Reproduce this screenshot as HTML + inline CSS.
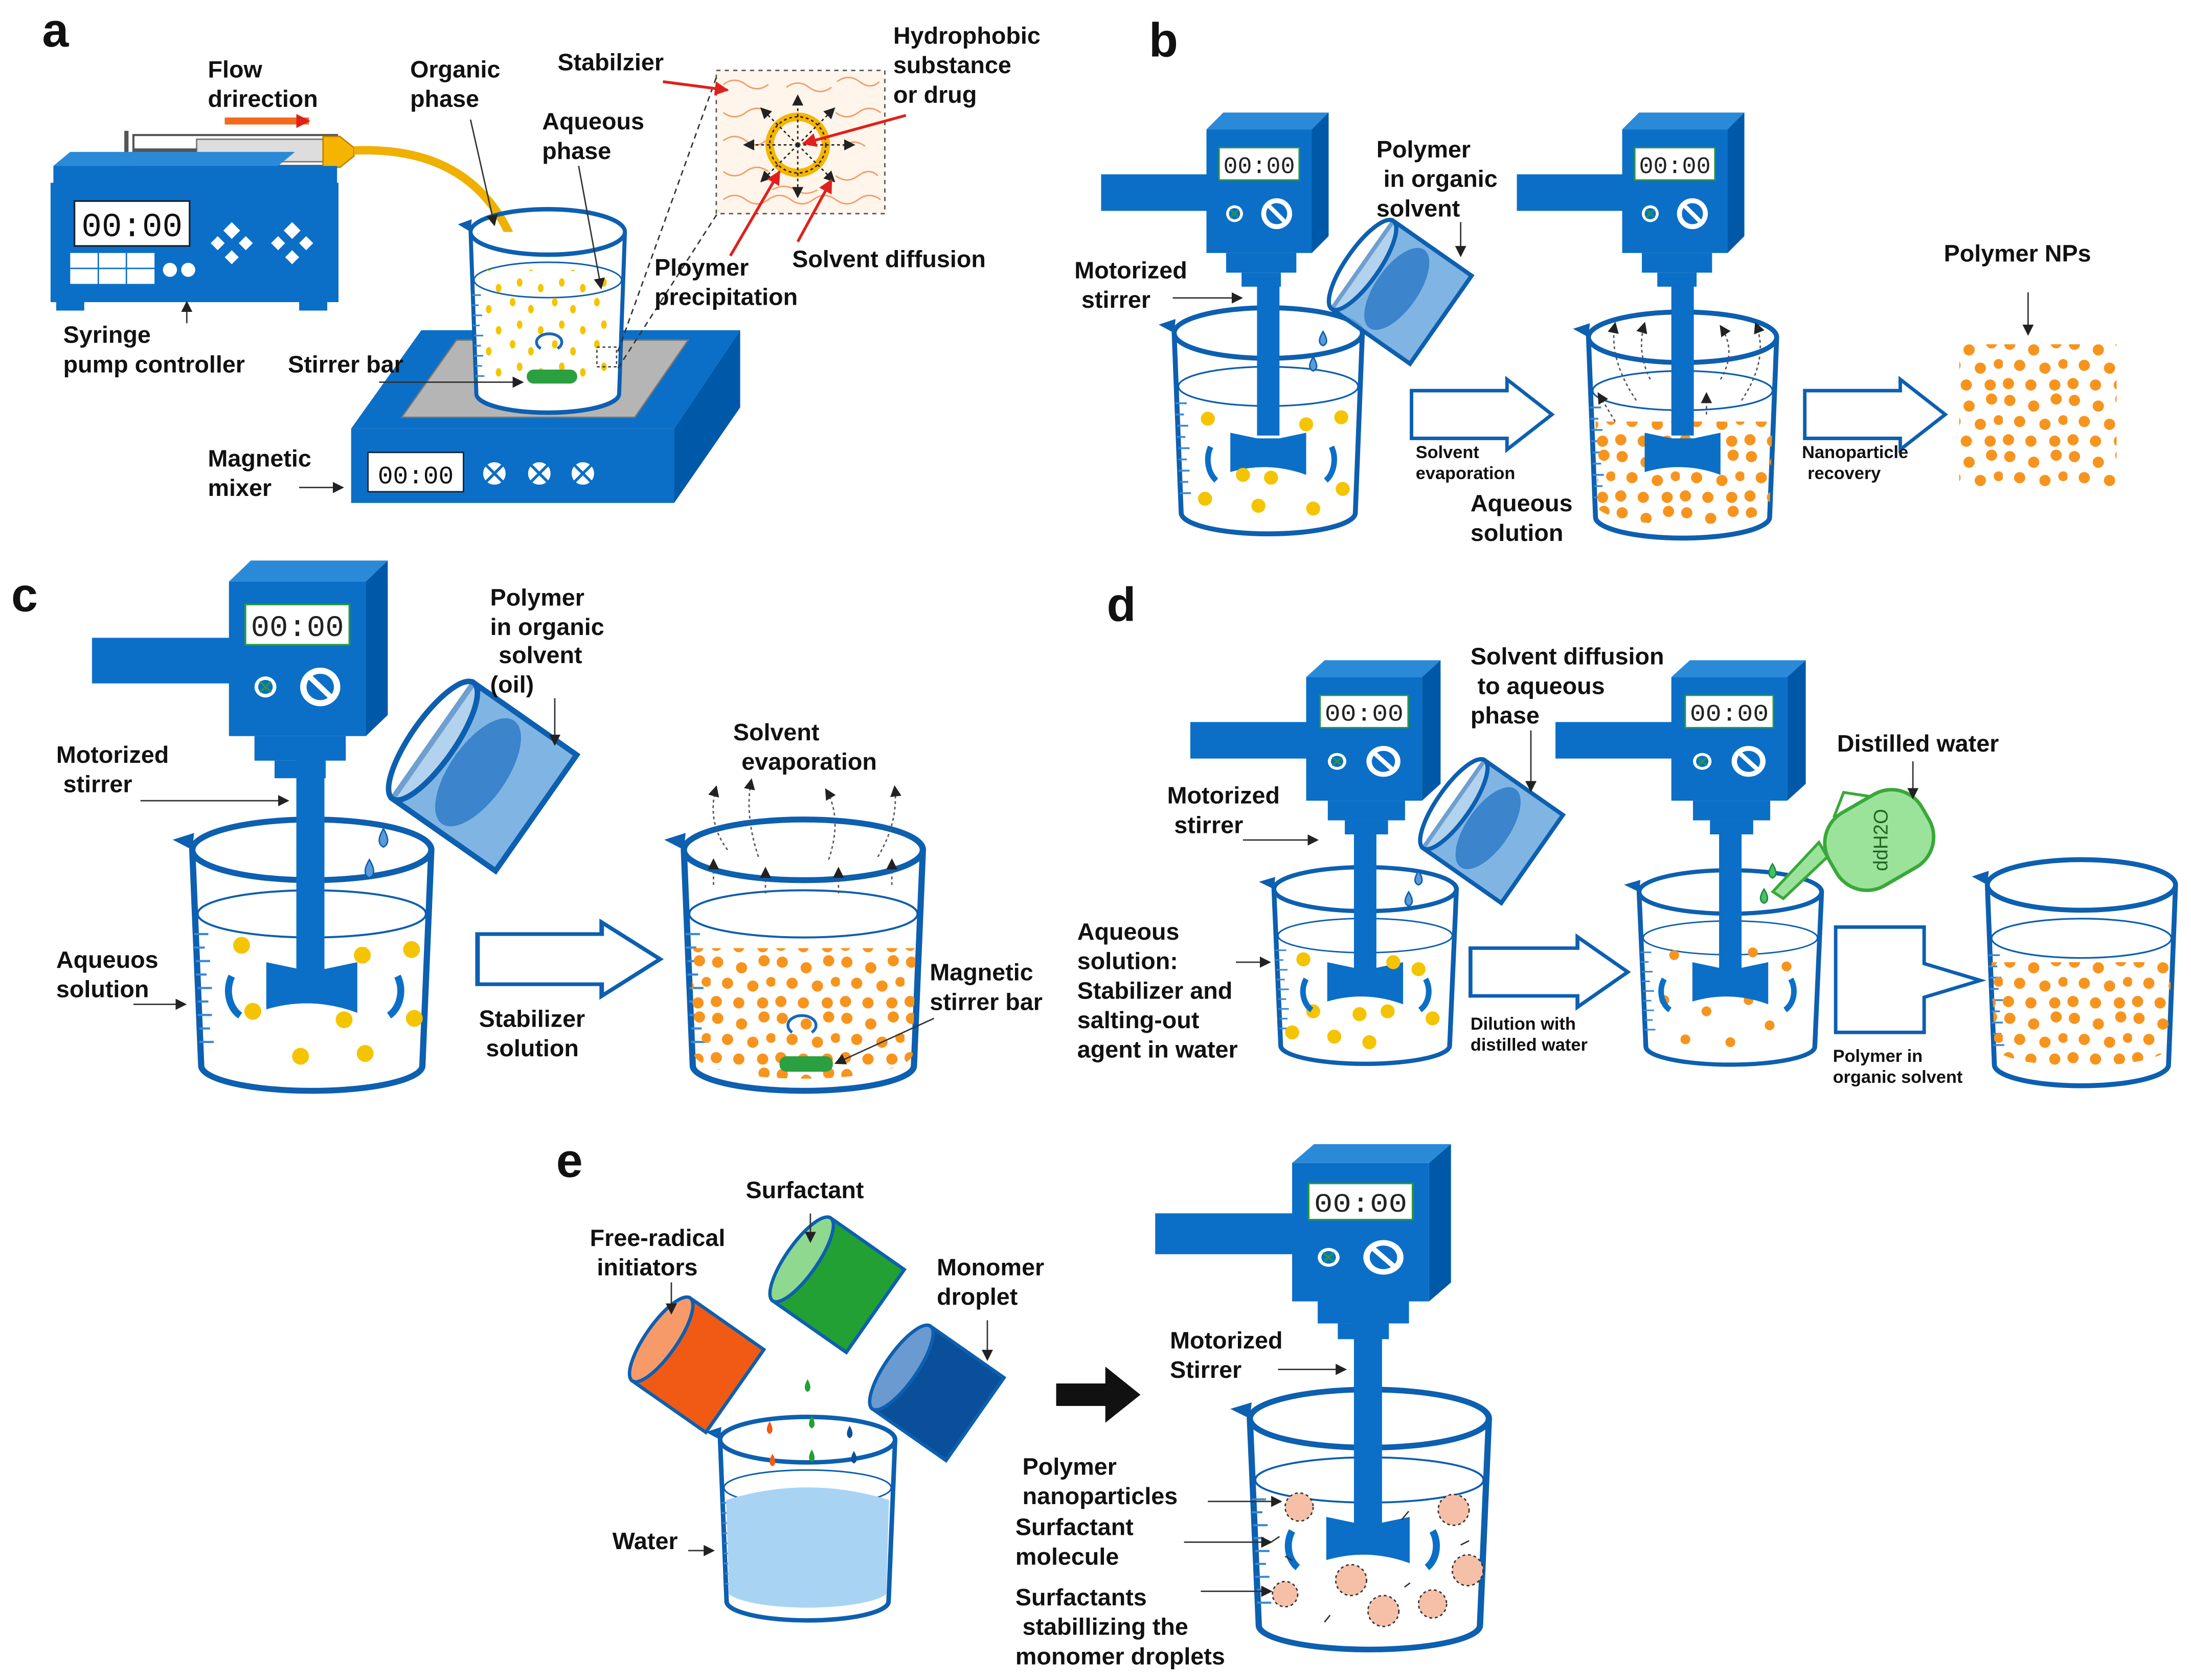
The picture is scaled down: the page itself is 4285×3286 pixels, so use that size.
<!DOCTYPE html>
<html><head><meta charset="utf-8"><style>
html,body{margin:0;padding:0;background:#fff}
svg{display:block}
text{font-family:"Liberation Sans",Arial,sans-serif;font-weight:bold;fill:#111}
</style></head><body>
<svg xmlns="http://www.w3.org/2000/svg" width="4285" height="3286" viewBox="0 0 1560 1196">
<defs>
<marker id="ah" markerWidth="8" markerHeight="8" refX="7" refY="4" orient="auto" markerUnits="userSpaceOnUse"><path d="M0,0 L8,4 L0,8z" fill="#222"/></marker>
<marker id="ahr" markerWidth="10" markerHeight="10" refX="9" refY="5" orient="auto" markerUnits="userSpaceOnUse"><path d="M0,0 L10,5 L0,10z" fill="#e0201c"/></marker>
<pattern id="dots" width="46" height="40" patternUnits="userSpaceOnUse">
<circle cx="5" cy="5" r="4" fill="#f7941d"/><circle cx="22" cy="9" r="4" fill="#f7941d"/><circle cx="38" cy="4" r="4" fill="#f7941d"/>
<circle cx="12" cy="20" r="4" fill="#f7941d"/><circle cx="30" cy="22" r="4" fill="#f7941d"/><circle cx="43" cy="19" r="3.5" fill="#f7941d"/>
<circle cx="4" cy="33" r="4" fill="#f7941d"/><circle cx="20" cy="34" r="4" fill="#f7941d"/><circle cx="37" cy="34" r="4" fill="#f7941d"/>
</pattern>
<pattern id="ydots" width="30" height="30" patternUnits="userSpaceOnUse">
<ellipse cx="5" cy="5" rx="2" ry="3" fill="#f5c400"/><ellipse cx="18" cy="10" rx="2" ry="3" fill="#f5c400"/><ellipse cx="10" cy="21" rx="2" ry="3" fill="#f5c400"/><ellipse cx="25" cy="25" rx="2" ry="3" fill="#f5c400"/>
</pattern>
<g id="beaker">
<path d="M-67,0 L-62,128 A62,15 0 0 0 62,128 L67,0" fill="#fff" stroke="#0d5fb0" stroke-width="3.5"/>
<ellipse cx="0" cy="0" rx="67" ry="18" fill="none" stroke="#0d5fb0" stroke-width="3.5"/>
<path d="M-67,0 L-78,-6 L-66,-10z" fill="#0d5fb0"/>
<ellipse cx="0" cy="38" rx="64" ry="14" fill="none" stroke="#0d5fb0" stroke-width="1.2"/>
<path d="M-66,50h8M-66,58h6M-65,66h8M-65,74h6M-64,82h8M-64,90h6M-64,98h8M-63,106h6M-63,114h8" stroke="#3a88d6" stroke-width="1.3"/>
</g>
<g id="stir">
<rect x="-75" y="32" width="80" height="26" fill="#0b6fc7"/>
<polygon points="0,0 12,-12 87,-12 75,0" fill="#2a8ad8"/>
<polygon points="75,0 87,-12 87,76 75,88" fill="#0059a8"/>
<rect x="0" y="0" width="75" height="88" fill="#0b6fc7"/>
<rect x="9" y="13" width="57" height="23" fill="#fff" stroke="#2a9a3a" stroke-width="1"/>
<text x="37.5" y="31" text-anchor="middle" style="font-family:'Liberation Mono',monospace;font-weight:normal;font-size:17px;fill:#222">00:00</text>
<circle cx="20" cy="60" r="6" fill="#fff"/><circle cx="20" cy="60" r="4" fill="#0b6fc7"/><path d="M17,57l6,6M23,57l-6,6" stroke="#2a9a3a" stroke-width="1"/>
<circle cx="50" cy="60" r="11" fill="#fff"/><circle cx="50" cy="60" r="7.5" fill="#0b6fc7"/><path d="M44,54 L56,66" stroke="#fff" stroke-width="3"/>
<rect x="14" y="88" width="50" height="14" fill="#0b6fc7"/>
<rect x="25" y="102" width="28" height="10" fill="#0b6fc7"/>
</g>
<g id="imp"><path d="M-27,0 L-27,28 Q0,20 27,30 L27,0 L8,4 L-8,4z" fill="#0b6fc7"/></g>
<g id="tilt">
<g transform="rotate(35)">
<path d="M-40,-45 L40,-45 L40,45 L-40,45z" fill="#6aa8de" fill-opacity="0.85" stroke="#0d5fb0" stroke-width="3.5"/>
<ellipse cx="-40" cy="0" rx="14" ry="45" fill="#fff" fill-opacity="0.4" stroke="#0d5fb0" stroke-width="3.5"/>
<ellipse cx="-5" cy="0" rx="18" ry="40" fill="#2a78c4" opacity="0.8"/>
</g>
</g>
<g id="harrow"><path d="M0,0 H68 V-8 L100,17 L68,42 V34 H0z" fill="#fff" stroke="#0d5fb0" stroke-width="2.5"/></g>
</defs>

<!-- ================= a ================= -->
<text x="30" y="33" style="font-size:34px">a</text>
<rect x="95" y="96" width="145" height="22" fill="#fff" stroke="#555" stroke-width="1.5"/>
<rect x="140" y="99" width="95" height="16" fill="#ddd" stroke="#777"/>
<path d="M90,93 v28 M95,107 h45" stroke="#555" stroke-width="3"/>
<path d="M230,97 h12 l10,8 v6 l-10,8 h-12z" fill="#f5b400" stroke="#c08000"/>
<path d="M252,107 C300,105 340,120 362,165 L382,212" fill="none" stroke="#f0b000" stroke-width="6"/>
<path d="M160,86 h60" stroke="#f36a1d" stroke-width="5" marker-end="url(#ahr)"/>
<rect x="38" y="118" width="202" height="12" fill="#0b6fc7"/>
<polygon points="38,118 50,108 210,108 198,118" fill="#2a8ad8"/>
<rect x="36" y="130" width="205" height="85" fill="#0b6fc7"/>
<rect x="40" y="213" width="20" height="8" fill="#0b6fc7"/><rect x="213" y="213" width="20" height="8" fill="#0b6fc7"/>
<rect x="53" y="143" width="82" height="32" fill="#fff" stroke="#123" stroke-width="1.2"/>
<text x="94" y="168" text-anchor="middle" style="font-family:'Liberation Mono',monospace;font-weight:normal;font-size:24px">00:00</text>
<rect x="50" y="180" width="60" height="22" fill="#fff"/><path d="M50,191h60M70,180v22M90,180v22" stroke="#0b6fc7"/>
<circle cx="121" cy="192" r="5" fill="#fff"/><circle cx="134" cy="192" r="5" fill="#fff"/>
<path d="M165,158 l6,6 l-6,6 l-6,-6z M155,168 l5,5 l-5,5 l-5,-5z M175,168 l5,5 l-5,5 l-5,-5z M165,178 l5,5 l-5,5 l-5,-5z" fill="#fff"/>
<path d="M208,158 l6,6 l-6,6 l-6,-6z M198,168 l5,5 l-5,5 l-5,-5z M218,168 l5,5 l-5,5 l-5,-5z M208,178 l5,5 l-5,5 l-5,-5z" fill="#fff"/>
<polygon points="250,305 300,235 527,235 480,305" fill="#0b6fc7"/>
<polygon points="480,305 527,235 527,290 480,358" fill="#0059a8"/>
<rect x="250" y="305" width="230" height="53" fill="#0b6fc7"/>
<polygon points="286,297 325,242 490,242 452,297" fill="#b5b5b5" stroke="#777"/>
<rect x="262" y="322" width="68" height="28" fill="#fff" stroke="#123"/>
<text x="296" y="344" text-anchor="middle" style="font-family:'Liberation Mono',monospace;font-weight:normal;font-size:18px">00:00</text>
<g fill="#fff" stroke="#0b6fc7" stroke-width="2"><circle cx="352" cy="337" r="9"/><circle cx="384" cy="337" r="9"/><circle cx="415" cy="337" r="9"/></g>
<path d="M346,331l12,12M358,331l-12,12M378,331l12,12M390,331l-12,12M409,331l12,12M421,331l-12,12" stroke="#0b6fc7" stroke-width="2"/>
<g transform="translate(390,165) scale(0.82,0.9)"><use href="#beaker"/></g>
<rect x="345" y="192" width="90" height="80" fill="url(#ydots)"/>
<rect x="375" y="263" width="36" height="10" rx="5" fill="#2aa040"/>
<rect x="425" y="247" width="14" height="14" fill="none" stroke="#444" stroke-dasharray="2,2"/>
<path d="M385,248 a9,6 0 1 1 12,0" fill="none" stroke="#1a66b8" stroke-width="2"/>
<rect x="510" y="50" width="120" height="102" fill="#fff5ea" stroke="#555" stroke-dasharray="3,3"/>
<g stroke="#f59a6a" fill="none" stroke-width="1">
<path d="M515,60 q8,-6 16,0 t16,0 M560,62 q8,-6 16,0 t16,0 M596,58 q8,-6 16,0 t14,0 M515,80 q8,6 16,0 t16,0 M595,80 q8,6 16,0 t16,0 M515,100 q8,-6 16,0 t14,0 M600,104 q8,-6 16,0 M515,122 q8,6 16,0 t16,0 M595,125 q8,6 16,0 t14,0 M515,142 q8,-6 16,0 t16,0 t16,0 t16,0 t16,0 t16,0 t16,0 M550,135 q8,-5 16,0 t16,0"/>
</g>
<circle cx="568" cy="103" r="20" fill="none" stroke="#f5b400" stroke-width="6"/>
<circle cx="568" cy="103" r="20" fill="none" stroke="#222" stroke-width="1" stroke-dasharray="2,2"/>
<g stroke="#222" stroke-width="1" stroke-dasharray="2,2" marker-end="url(#ah)">
<path d="M568,103 V68"/><path d="M568,103 V140"/><path d="M568,103 H530"/><path d="M568,103 H608"/>
<path d="M568,103 L542,77"/><path d="M568,103 L594,77"/><path d="M568,103 L542,129"/><path d="M568,103 L594,129"/>
</g>
<line x1="440" y1="250" x2="510" y2="55" stroke="#333" stroke-dasharray="4,3"/>
<line x1="440" y1="262" x2="512" y2="150" stroke="#333" stroke-dasharray="4,3"/>
<g stroke="#e0201c" stroke-width="2" marker-end="url(#ahr)">
<path d="M472,58 L518,64"/><path d="M645,82 L572,102"/><path d="M520,182 L555,122"/><path d="M568,172 L592,128"/>
</g>
<g stroke="#333" stroke-width="1" marker-end="url(#ah)">
<path d="M335,85 L352,160"/><path d="M412,118 L428,205"/><path d="M133,230 V215"/><path d="M270,272 H372"/><path d="M213,347 H244"/>
</g>
<g style="font-size:17px">
<text x="148" y="55">Flow</text><text x="148" y="76">drirection</text>
<text x="292" y="55">Organic</text><text x="292" y="76">phase</text>
<text x="397" y="50">Stabilzier</text>
<text x="386" y="92">Aqueous</text><text x="386" y="113">phase</text>
<text x="636" y="31">Hydrophobic</text><text x="636" y="52">substance</text><text x="636" y="73">or drug</text>
<text x="466" y="196">Ploymer</text><text x="466" y="217">precipitation</text>
<text x="564" y="190">Solvent diffusion</text>
<text x="45" y="244">Syringe</text><text x="45" y="265">pump controller</text>
<text x="205" y="265">Stirrer bar</text>
<text x="148" y="332">Magnetic</text><text x="148" y="353">mixer</text>
</g>

<!-- ================= b ================= -->
<text x="818" y="40" style="font-size:34px">b</text>
<use href="#beaker" transform="translate(903,237)"/>
<rect x="895" y="200" width="16" height="110" fill="#0b6fc7"/>
<use href="#imp" transform="translate(903,308)"/>
<use href="#stir" transform="translate(859,92)"/>
<g fill="#f5c400"><circle cx="860" cy="298" r="5"/><circle cx="930" cy="302" r="5"/><circle cx="955" cy="297" r="5"/><circle cx="885" cy="338" r="5"/><circle cx="905" cy="340" r="5"/><circle cx="956" cy="348" r="5"/><circle cx="858" cy="355" r="5"/><circle cx="896" cy="360" r="5"/><circle cx="935" cy="362" r="5"/></g>
<path d="M862,318 a14,18 0 0 0 4,24 M948,318 a14,18 0 0 1 -4,24" fill="none" stroke="#0b6fc7" stroke-width="4"/>
<path d="M942,236 q-5,8 0,10 q5,-2 0,-10z M935,254 q-5,8 0,10 q5,-2 0,-10z" fill="#5a9ad8" stroke="#0d5fb0"/>
<g transform="translate(998,208) scale(0.85)"><use href="#tilt"/></g>
<use href="#harrow" transform="translate(1005,278)"/>
<use href="#beaker" transform="translate(1198,240)"/>
<path d="M1136,300 L1262,300 L1260,362 A62,14 0 0 1 1138,362z" fill="url(#dots)"/>
<rect x="1190" y="200" width="16" height="110" fill="#0b6fc7"/>
<use href="#imp" transform="translate(1198,308)"/>
<use href="#stir" transform="translate(1155,92)"/>
<g stroke="#555" stroke-width="1" stroke-dasharray="2,2" fill="none" marker-end="url(#ah)">
<path d="M1165,285 q-20,-30 -15,-55"/><path d="M1175,270 q-10,-20 -4,-40"/><path d="M1225,270 q12,-20 0,-38"/><path d="M1240,285 q20,-30 10,-55"/><path d="M1150,300 l-12,-20"/><path d="M1215,295 v-15"/>
</g>
<use href="#harrow" transform="translate(1285,278)"/>
<rect x="1395" y="245" width="112" height="102" fill="url(#dots)"/>
<g stroke="#333" stroke-width="1" marker-end="url(#ah)"><path d="M835,212 H884"/><path d="M1040,158 V182"/><path d="M1444,208 V238"/></g>
<g style="font-size:17px">
<text x="980" y="112">Polymer</text><text x="985" y="133">in organic</text><text x="980" y="154">solvent</text>
<text x="765" y="198">Motorized</text><text x="770" y="219">stirrer</text>
<text x="1047" y="364">Aqueous</text><text x="1047" y="385">solution</text>
<text x="1384" y="186">Polymer NPs</text>
</g>
<g style="font-size:12.5px"><text x="1008" y="326">Solvent</text><text x="1008" y="341">evaporation</text><text x="1283" y="326">Nanoparticle</text><text x="1287" y="341">recovery</text></g>

<!-- ================= c ================= -->
<text x="8" y="435" style="font-size:34px">c</text>
<g transform="translate(222,605) scale(1.27,1.2)"><use href="#beaker"/></g>
<rect x="211" y="540" width="20" height="150" fill="#0b6fc7"/>
<g transform="translate(222,685) scale(1.2)"><use href="#imp"/></g>
<g transform="translate(163,414) scale(1.3,1.25)"><use href="#stir"/></g>
<g fill="#f5c400"><circle cx="172" cy="673" r="6"/><circle cx="258" cy="680" r="6"/><circle cx="293" cy="676" r="6"/><circle cx="180" cy="720" r="6"/><circle cx="245" cy="726" r="6"/><circle cx="295" cy="725" r="6"/><circle cx="214" cy="752" r="6"/><circle cx="260" cy="750" r="6"/></g>
<path d="M165,695 a16,20 0 0 0 6,28 M283,695 a16,20 0 0 1 -6,28" fill="none" stroke="#0b6fc7" stroke-width="5"/>
<path d="M273,590 q-6,10 0,13 q6,-3 0,-13z M263,612 q-6,10 0,13 q6,-3 0,-13z" fill="#5a9ad8" stroke="#0d5fb0"/>
<g transform="translate(345,553) scale(1.12)"><use href="#tilt"/></g>
<g transform="translate(340,665) scale(1.3,1.05)"><use href="#harrow"/></g>
<g transform="translate(572,605) scale(1.27,1.2)"><use href="#beaker"/></g>
<path d="M492,675 L652,675 L650,750 A78,18 0 0 1 494,750z" fill="url(#dots)"/>
<rect x="555" y="752" width="38" height="11" rx="5" fill="#2aa040"/>
<path d="M564,735 a10,7 0 1 1 14,0" fill="none" stroke="#1a66b8" stroke-width="2"/>
<g stroke="#555" stroke-width="1" stroke-dasharray="2,2" fill="none" marker-end="url(#ah)">
<path d="M518,605 q-15,-20 -8,-45"/><path d="M540,610 q-10,-30 -5,-55"/><path d="M590,612 q10,-30 -2,-50"/><path d="M625,610 q15,-25 12,-50"/><path d="M508,630 v-18"/><path d="M545,636 v-18"/><path d="M597,636 v-18"/><path d="M635,630 v-18"/>
</g>
<g stroke="#333" stroke-width="1" marker-end="url(#ah)"><path d="M100,570 H205"/><path d="M395,497 V530"/><path d="M95,715 H132"/><path d="M665,725 L595,757"/></g>
<g style="font-size:17px">
<text x="349" y="431">Polymer</text><text x="349" y="452">in organic</text><text x="355" y="472">solvent</text><text x="349" y="493">(oil)</text>
<text x="40" y="543">Motorized</text><text x="45" y="564">stirrer</text>
<text x="40" y="689">Aqueuos</text><text x="40" y="710">solution</text>
<text x="341" y="731">Stabilizer</text><text x="346" y="752">solution</text>
<text x="522" y="527">Solvent</text><text x="528" y="548">evaporation</text>
<text x="662" y="698">Magnetic</text><text x="662" y="719">stirrer bar</text>
</g>

<!-- ================= d ================= -->
<text x="788" y="442" style="font-size:34px">d</text>
<g transform="translate(972,633) scale(0.97,0.87)"><use href="#beaker"/></g>
<rect x="964" y="585" width="16" height="110" fill="#0b6fc7"/>
<use href="#imp" transform="translate(972,685)"/>
<g transform="translate(930,482) scale(1.1,1)"><use href="#stir"/></g>
<g fill="#f5c400"><circle cx="928" cy="683" r="5"/><circle cx="992" cy="685" r="5"/><circle cx="1010" cy="690" r="5"/><circle cx="935" cy="720" r="5"/><circle cx="968" cy="722" r="5"/><circle cx="988" cy="720" r="5"/><circle cx="1020" cy="725" r="5"/><circle cx="920" cy="735" r="5"/><circle cx="950" cy="738" r="5"/><circle cx="975" cy="742" r="5"/></g>
<path d="M930,697 a12,15 0 0 0 4,22 M1015,697 a12,15 0 0 1 -4,22" fill="none" stroke="#0b6fc7" stroke-width="4"/>
<path d="M1010,620 q-5,8 0,10 q5,-2 0,-10z M1003,635 q-5,8 0,10 q5,-2 0,-10z" fill="#5a9ad8" stroke="#0d5fb0"/>
<g transform="translate(1063,592) scale(0.85)"><use href="#tilt"/></g>
<g transform="translate(1047,675) scale(1.12,1)"><use href="#harrow"/></g>
<g transform="translate(1232,635) scale(0.97,0.86)"><use href="#beaker"/></g>
<g fill="#f7941d"><circle cx="1192" cy="680" r="3.5"/><circle cx="1248" cy="678" r="3.5"/><circle cx="1272" cy="688" r="3.5"/><circle cx="1185" cy="712" r="3.5"/><circle cx="1215" cy="720" r="3.5"/><circle cx="1245" cy="712" r="3.5"/><circle cx="1260" cy="730" r="3.5"/><circle cx="1200" cy="740" r="3.5"/><circle cx="1232" cy="742" r="3.5"/></g>
<rect x="1224" y="585" width="16" height="110" fill="#0b6fc7"/>
<use href="#imp" transform="translate(1232,685)"/>
<g transform="translate(1190,482) scale(1.1,1)"><use href="#stir"/></g>
<path d="M1185,697 a12,15 0 0 0 4,22 M1275,697 a12,15 0 0 1 -4,22" fill="none" stroke="#0b6fc7" stroke-width="4"/>
<path d="M1262,615 q-5,8 0,10 q5,-2 0,-10z M1256,633 q-5,8 0,10 q5,-2 0,-10z" fill="#4abf6a" stroke="#1a8a3a"/>
<g transform="translate(1338,598) rotate(-30)">
<rect x="-38" y="-30" width="76" height="60" rx="25" fill="#9be39b" stroke="#3aa83a" stroke-width="2.5"/>
<path d="M-38,-8 L-80,2 L-84,-6 L-38,-20z" fill="#9be39b" stroke="#3aa83a" stroke-width="2"/>
<path d="M-20,-30 L-5,-42 L10,-30" fill="none" stroke="#3aa83a" stroke-width="2"/>
<text x="0" y="6" text-anchor="middle" transform="rotate(-60)" style="font-weight:normal;font-size:14px;fill:#226622">ddH2O</text>
</g>
<path d="M1307,660 H1370 V686 L1410,698 L1370,710 V735 H1307z" fill="#fff" stroke="#0d5fb0" stroke-width="2.5"/>
<use href="#beaker" transform="translate(1482,630)"/>
<path d="M1418,685 L1546,685 L1544,745 A62,14 0 0 1 1420,745z" fill="url(#dots)"/>
<g stroke="#333" stroke-width="1" marker-end="url(#ah)"><path d="M885,598 H938"/><path d="M1090,520 V563"/><path d="M1362,542 V568"/><path d="M880,685 H904"/></g>
<g style="font-size:17px">
<text x="1047" y="473">Solvent diffusion</text><text x="1052" y="494">to aqueous</text><text x="1047" y="515">phase</text>
<text x="831" y="572">Motorized</text><text x="836" y="593">stirrer</text>
<text x="767" y="669">Aqueous</text><text x="767" y="690">solution:</text><text x="767" y="711">Stabilizer and</text><text x="767" y="732">salting-out</text><text x="767" y="753">agent in water</text>
<text x="1308" y="535">Distilled water</text>
</g>
<g style="font-size:12.5px"><text x="1047" y="733">Dilution with</text><text x="1047" y="748">distilled water</text><text x="1305" y="756">Polymer in</text><text x="1305" y="771">organic solvent</text></g>

<!-- ================= e ================= -->
<text x="396" y="838" style="font-size:34px">e</text>
<g transform="translate(575,1025) scale(0.93,0.9)"><use href="#beaker"/></g>
<path d="M517,1068 Q575,1050 633,1068 L631,1135 A58,13 0 0 1 519,1135z" fill="#a9d3f3"/>
<g transform="translate(597,915) scale(0.8)"><g transform="rotate(35)">
<path d="M-40,-45 L40,-45 L40,45 L-40,45z" fill="#22a033" stroke="#0d5fb0" stroke-width="3"/>
<ellipse cx="-40" cy="0" rx="14" ry="45" fill="#8fd88f" stroke="#0d5fb0" stroke-width="3"/></g></g>
<g transform="translate(497,972) scale(0.8)"><g transform="rotate(35)">
<path d="M-40,-45 L40,-45 L40,45 L-40,45z" fill="#f05a14" stroke="#0d5fb0" stroke-width="3"/>
<ellipse cx="-40" cy="0" rx="14" ry="45" fill="#f79a6a" stroke="#0d5fb0" stroke-width="3"/></g></g>
<g transform="translate(668,992) scale(0.8)"><g transform="rotate(35)">
<path d="M-40,-45 L40,-45 L40,45 L-40,45z" fill="#0a4f9a" stroke="#0d5fb0" stroke-width="3"/>
<ellipse cx="-40" cy="0" rx="14" ry="45" fill="#6a9ad0" stroke="#0d5fb0" stroke-width="3"/></g></g>
<path d="M575,982 q-4,7 0,9 q4,-2 0,-9z M578,1008 q-4,7 0,9 q4,-2 0,-9z M578,1032 q-4,7 0,9 q4,-2 0,-9z" fill="#22a033"/>
<path d="M548,1012 q-4,7 0,9 q4,-2 0,-9z M550,1035 q-4,7 0,9 q4,-2 0,-9z" fill="#f05a14"/>
<path d="M605,1015 q-4,7 0,9 q4,-2 0,-9z M608,1033 q-4,7 0,9 q4,-2 0,-9z" fill="#0a4f9a"/>
<path d="M752,985 h35 v-12 l25,20 l-25,20 v-12 h-35z" fill="#111"/>
<g transform="translate(975,1010) scale(1.27,1.15)"><use href="#beaker"/></g>
<rect x="964" y="935" width="20" height="150" fill="#0b6fc7"/>
<g transform="translate(974,1080) scale(1.1)"><use href="#imp"/></g>
<g transform="translate(920,828) scale(1.3,1.12)"><use href="#stir"/></g>
<path d="M920,1090 a14,18 0 0 0 4,26 M1020,1090 a14,18 0 0 1 -4,26" fill="none" stroke="#0b6fc7" stroke-width="5"/>
<g fill="#f6c0a8" stroke="#333" stroke-width="1" stroke-dasharray="2,2">
<circle cx="925" cy="1073" r="10"/><circle cx="1035" cy="1075" r="11"/><circle cx="1045" cy="1118" r="11"/><circle cx="962" cy="1125" r="11"/><circle cx="915" cy="1135" r="9"/><circle cx="985" cy="1147" r="11"/><circle cx="1020" cy="1142" r="10"/>
</g>
<g stroke="#333" stroke-width="1"><path d="M905,1098 l6,-4 M915,1108 l5,3 M998,1082 l5,-6 M1040,1100 l6,-3 M947,1150 l-4,5 M1000,1130 l4,-3"/></g>
<g stroke="#333" stroke-width="1" marker-end="url(#ah)">
<path d="M577,864 V884"/><path d="M478,913 V935"/><path d="M703,940 V968"/><path d="M490,1104 H508"/>
<path d="M910,975 H958"/><path d="M860,1069 H912"/><path d="M843,1098 H905"/><path d="M855,1133 H905"/>
</g>
<g style="font-size:17px">
<text x="531" y="853">Surfactant</text>
<text x="420" y="887">Free-radical</text><text x="425" y="908">initiators</text>
<text x="667" y="908">Monomer</text><text x="667" y="929">droplet</text>
<text x="436" y="1103">Water</text>
<text x="833" y="960">Motorized</text><text x="833" y="981">Stirrer</text>
<text x="728" y="1050">Polymer</text><text x="728" y="1071">nanoparticles</text>
<text x="723" y="1093">Surfactant</text><text x="723" y="1114">molecule</text>
<text x="723" y="1143">Surfactants</text><text x="728" y="1164">stabillizing the</text><text x="723" y="1185">monomer droplets</text>
</g>
</svg>
</body></html>
